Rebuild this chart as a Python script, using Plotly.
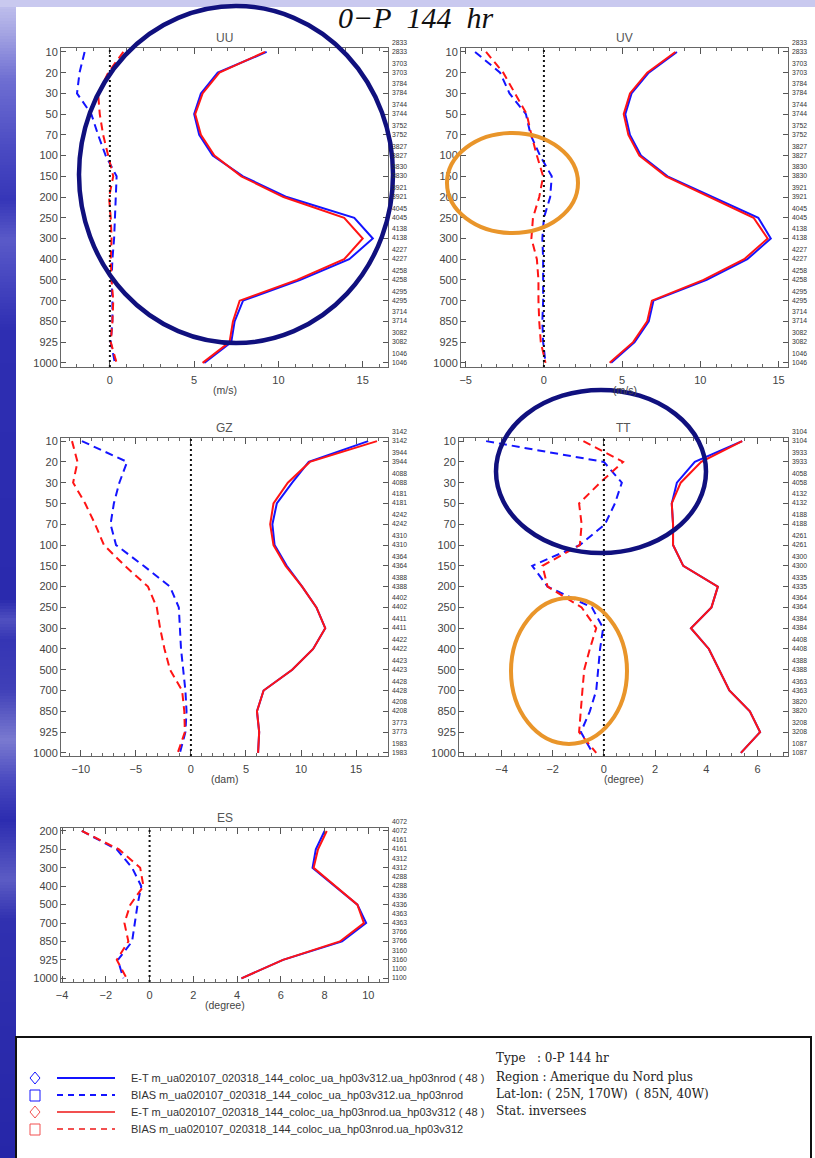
import plotly.graph_objects as go

# ---------------------------------------------------------------- data
LEVELS = ["10", "20", "30", "50", "70", "100", "150", "200", "250", "300",
          "400", "500", "700", "850", "925", "1000"]
ES_LEVELS = ["200", "250", "300", "400", "500", "700", "850", "925", "1000"]

# UU  (m/s)
UU_ET_NRAD = [9.3, 6.4, 5.4, 5.0, 5.3, 6.1, 7.9, 10.5, 14.5, 15.6, 14.2, 11.3, 7.9, 7.4, 7.2, 5.6]
UU_BIAS_NRAD = [-1.5, -1.8, -1.95, -1.1, -0.7, -0.25, 0.4, 0.35, 0.3, 0.25, 0.15, 0.1, 0.15, 0.15, 0.05, 0.3]
UU_ET_V312 = [9.2, 6.5, 5.5, 5.06, 5.4, 6.2, 7.8, 10.3, 13.9, 15.0, 13.9, 11.1, 7.7, 7.3, 7.1, 5.5]
UU_BIAS_V312 = [0.8, -0.1, -0.7, -0.6, -0.4, -0.1, 0.2, -0.05, 0.05, 0.1, 0.05, 0.1, 0.2, 0.15, 0.05, 0.4]
UU_COUNT = [2833, 3703, 3784, 3744, 3752, 3827, 3830, 3921, 4045, 4138, 4227, 4258, 4295, 3714, 3082, 1046]

# UV  (m/s)
UV_ET_NRAD = [8.5, 6.7, 5.6, 5.2, 5.5, 6.2, 7.9, 10.8, 13.7, 14.5, 13.0, 10.4, 7.0, 6.7, 5.8, 4.3]
UV_BIAS_NRAD = [-4.4, -2.8, -2.2, -1.15, -0.85, -0.25, 0.5, 0.4, 0.0, -0.1, -0.05, -0.05, -0.05, -0.1, -0.05, 0.1]
UV_ET_V312 = [8.4, 6.6, 5.5, 5.1, 5.4, 6.1, 7.8, 10.6, 13.4, 14.3, 12.8, 10.2, 6.9, 6.6, 5.7, 4.2]
UV_BIAS_V312 = [-3.7, -2.6, -1.85, -1.1, -0.8, -0.45, -0.05, -0.3, -0.7, -0.8, -0.45, -0.35, -0.35, -0.3, -0.2, 0.1]
UV_COUNT = [2833, 3703, 3784, 3744, 3752, 3827, 3830, 3921, 4045, 4138, 4227, 4258, 4295, 3714, 3082, 1046]

# GZ  (dam)
GZ_ET_NRAD = [16.1, 10.7, 9.2, 7.8, 7.4, 7.6, 8.7, 10.1, 11.4, 12.2, 11.1, 9.2, 6.6, 6.0, 6.2, 6.1]
GZ_BIAS_NRAD = [-9.9, -5.8, -6.5, -7.0, -7.3, -6.8, -4.3, -1.9, -1.1, -1.0, -0.9, -0.7, -0.5, -0.4, -0.5, -1.0]
GZ_ET_V312 = [16.9, 10.8, 8.8, 7.5, 7.2, 7.5, 8.6, 10.1, 11.4, 12.2, 11.1, 9.2, 6.6, 6.0, 6.2, 6.1]
GZ_BIAS_V312 = [-10.8, -10.3, -10.7, -9.6, -8.7, -7.9, -6.0, -3.9, -3.1, -2.8, -2.4, -1.9, -0.8, -0.6, -0.55, -1.2]
GZ_COUNT = [3142, 3944, 4088, 4181, 4242, 4310, 4364, 4388, 4402, 4411, 4422, 4423, 4428, 4208, 3773, 1983]

# TT  (degree)
TT_ET_NRAD = [5.4, 3.55, 2.85, 2.65, 2.7, 2.7, 3.1, 4.45, 4.2, 3.4, 4.1, 4.5, 4.9, 5.7, 6.1, 5.35]
TT_BIAS_NRAD = [-4.6, 0.0, 0.7, 0.43, 0.04, -0.94, -2.8, -2.2, -0.47, -0.03, -0.15, -0.22, -0.3, -0.55, -0.9, -0.44]
TT_ET_V312 = [5.4, 3.8, 3.0, 2.65, 2.7, 2.7, 3.1, 4.45, 4.2, 3.4, 4.1, 4.5, 4.9, 5.7, 6.1, 5.35]
TT_BIAS_V312 = [-0.8, 0.75, -0.15, -0.97, -0.87, -0.94, -2.4, -2.2, -0.87, -0.3, -0.55, -0.77, -0.84, -0.9, -0.97, -0.3]
TT_COUNT = [3104, 3933, 4058, 4132, 4188, 4261, 4300, 4335, 4364, 4384, 4408, 4388, 4363, 3820, 3208, 1087]

# ES  (degree)
ES_ET_NRAD = [8.0, 7.6, 7.45, 8.45, 9.5, 9.9, 8.8, 6.1, 4.2]
ES_BIAS_NRAD = [-3.1, -1.5, -0.8, -0.38, -0.55, -0.66, -0.8, -1.45, -1.2]
ES_ET_V312 = [8.1, 7.7, 7.5, 8.5, 9.5, 9.8, 8.7, 6.1, 4.2]
ES_BIAS_V312 = [-3.1, -1.4, -0.43, -0.28, -0.88, -1.15, -0.97, -1.5, -1.05]
ES_COUNT = [4072, 4161, 4312, 4288, 4336, 4363, 3766, 3160, 1100]

LEGEND_LABELS = [
    "E-T m_ua020107_020318_144_coloc_ua_hp03v312.ua_hp03nrod ( 48 )",
    "BIAS m_ua020107_020318_144_coloc_ua_hp03v312.ua_hp03nrod",
    "E-T m_ua020107_020318_144_coloc_ua_hp03nrod.ua_hp03v312 ( 48 )",
    "BIAS m_ua020107_020318_144_coloc_ua_hp03nrod.ua_hp03v312",
]
INFO_LINES = [
    "Type\u00a0\u00a0\u00a0: 0-P 144 hr",
    "Region : Amerique du Nord plus",
    "Lat-lon: ( 25N, 170W)\u00a0\u00a0( 85N, 40W)",
    "Stat. inversees",
]

# ---------------------------------------------------------------- styling
W, H = 815, 1158
BLUE = "#1414ff"
RED = "#ff1414"
NAVY = "#10107e"
ORANGE = "#e9952a"
SANS = "Liberation Sans, Arial, sans-serif"
SERIF = "Liberation Serif, Times New Roman, serif"
WIDE_SERIF = "DejaVu Serif, serif"
DASH = "8px,5px"


def px(x):
    return x / W


def py(y):
    return 1 - y / H


panels = [
    dict(title="UU", levels=LEVELS, et_b=UU_ET_NRAD, bias_b=UU_BIAS_NRAD,
         et_r=UU_ET_V312, bias_r=UU_BIAS_V312, count=UU_COUNT,
         xrange=[-2.9, 16.5], dtick=5, minor=1, unit="(m/s)",
         box=(61, 388, 48, 367), yrange=[15.2, -0.19]),
    dict(title="UV", levels=LEVELS, et_b=UV_ET_NRAD, bias_b=UV_BIAS_NRAD,
         et_r=UV_ET_V312, bias_r=UV_BIAS_V312, count=UV_COUNT,
         xrange=[-5.3, 15.6], dtick=5, minor=1, unit="(m/s)",
         box=(461, 788, 48, 367), yrange=[15.2, -0.19]),
    dict(title="GZ", levels=LEVELS, et_b=GZ_ET_NRAD, bias_b=GZ_BIAS_NRAD,
         et_r=GZ_ET_V312, bias_r=GZ_BIAS_V312, count=GZ_COUNT,
         xrange=[-11.8, 17.9], dtick=5, minor=1, unit="(dam)",
         box=(61, 388, 438, 756), yrange=[15.15, -0.15]),
    dict(title="TT", levels=LEVELS, et_b=TT_ET_NRAD, bias_b=TT_BIAS_NRAD,
         et_r=TT_ET_V312, bias_r=TT_BIAS_V312, count=TT_COUNT,
         xrange=[-5.66, 7.19], dtick=2, minor=0.5, unit="(degree)",
         box=(459, 788, 438, 756), yrange=[15.15, -0.15]),
    dict(title="ES", levels=ES_LEVELS, et_b=ES_ET_NRAD, bias_b=ES_BIAS_NRAD,
         et_r=ES_ET_V312, bias_r=ES_BIAS_V312, count=ES_COUNT,
         xrange=[-4.05, 10.9], dtick=2, minor=0.5, unit="(degree)",
         box=(61, 388, 828, 982), yrange=[8.2, -0.16]),
]

fig = go.Figure()
layout = {}
shapes = []
annotations = []

# page background: lavender band on top, shaded blue strip on the left
strip_stops = [
    (0, (196, 196, 238)), (30, (168, 168, 228)), (80, (110, 110, 210)),
    (150, (74, 74, 194)), (200, (54, 54, 184)), (240, (90, 90, 200)),
    (280, (70, 70, 192)), (330, (46, 46, 178)), (600, (42, 42, 174)),
    (620, (80, 80, 192)), (640, (53, 53, 180)), (690, (64, 64, 184)),
    (740, (122, 122, 208)), (780, (74, 74, 192)), (820, (44, 44, 176)),
    (880, (92, 92, 196)), (920, (48, 48, 176)), (1158, (38, 38, 168)),
]


def strip_color(y):
    for (y0, c0), (y1, c1) in zip(strip_stops[:-1], strip_stops[1:]):
        if y0 <= y <= y1:
            t = (y - y0) / (y1 - y0)
            return "rgb(%d,%d,%d)" % tuple(round(a + (b - a) * t) for a, b in zip(c0, c1))
    return "rgb(38,38,168)"


step = 3
for y in range(0, H, step):
    shapes.append(dict(type="rect", xref="paper", yref="paper", layer="below",
                       x0=0, x1=px(16), y0=py(y + step + 0.5), y1=py(y),
                       fillcolor=strip_color(y + step / 2), line=dict(width=0)))
shapes.append(dict(type="rect", xref="paper", yref="paper", layer="below",
                   x0=0, x1=1, y0=py(7), y1=1, fillcolor="#c9c9ef", line=dict(width=0)))


def note(text, x, y, xref="paper", yref="paper", xanchor="center", size=11,
         color="#444", family=SANS, yshift=0, align="center"):
    return dict(text=text, x=x, y=y, xref=xref, yref=yref, xanchor=xanchor,
                yanchor="middle", yshift=yshift, showarrow=False, align=align,
                borderpad=0, font=dict(family=family, size=size, color=color))


for k, p in enumerate(panels):
    sx = "" if k == 0 else str(k + 1)
    xa, ya = "x" + sx, "y" + sx
    x0, x1, y0, y1 = p["box"]

    layout["xaxis" + sx] = dict(
        domain=[px(x0), px(x1)], anchor=ya, range=p["xrange"],
        tickmode="linear", tick0=0, dtick=p["dtick"],
        ticks="inside", ticklen=6, tickcolor="#555", tickwidth=1,
        ticklabelstandoff=3,
        minor=dict(ticks="inside", dtick=p["minor"], tick0=0, ticklen=3,
                   tickcolor="#666", showgrid=False),
        showline=True, linecolor="#666", linewidth=1, mirror="ticks",
        showgrid=False, zeroline=False,
        tickfont=dict(family=SANS, size=11, color="#444"),
    )
    layout["yaxis" + sx] = dict(
        domain=[py(y1), py(y0)], anchor=xa, type="category",
        categoryorder="array", categoryarray=p["levels"], range=p["yrange"],
        ticks="inside", ticklen=5, tickcolor="#555", tickwidth=1,
        showline=True, linecolor="#666", linewidth=1, mirror="ticks",
        showgrid=False, zeroline=False,
        tickfont=dict(family=SANS, size=11, color="#444"),
    )

    series = [
        (p["bias_b"], BLUE, DASH),
        (p["et_b"], BLUE, "solid"),
        (p["bias_r"], RED, DASH),
        (p["et_r"], RED, "solid"),
    ]
    for vals, color, dash in series:
        fig.add_trace(go.Scatter(
            x=vals, y=p["levels"], mode="lines", xaxis=xa, yaxis=ya,
            line=dict(color=color, width=2, dash=dash),
            showlegend=False, hoverinfo="x+y"))

    # dotted zero reference
    shapes.append(dict(type="line", xref=xa, yref=ya + " domain", x0=0, x1=0,
                       y0=0, y1=1, line=dict(color="#111", width=2, dash="2px,3px")))

    # panel name and unit
    annotations.append(note(p["title"], 0.5, py(y0 - 10), xref=xa + " domain",
                            size=12, color="#555"))
    annotations.append(note(p["unit"], 0.5, py(y1 + 23), xref=xa + " domain",
                            size=10.5))

    # number of observations per level, both experiments
    for i, n in enumerate(p["count"]):
        annotations.append(note("%d<br>%d" % (n, n), 1.01, i, xref=xa + " domain",
                                yref=ya, xanchor="left", size=6.8, color="#333",
                                yshift=5, align="left"))

# title
annotations.append(note("<i>0\u2212P\u00a0\u00a0144\u00a0\u00a0hr</i>", px(416), py(17),
                        size=30, color="#111", family=SERIF))

# highlighted regions
for (ex0, ex1, ey0, ey1, col, wd) in [
    (79, 393, 6, 343, NAVY, 4.5),
    (447, 578, 133, 233, ORANGE, 4),
    (496, 706, 390, 553, NAVY, 4.5),
    (511, 627, 598, 744, ORANGE, 4),
]:
    shapes.append(dict(type="circle", xref="paper", yref="paper",
                       x0=px(ex0), x1=px(ex1), y0=py(ey1), y1=py(ey0),
                       line=dict(color=col, width=wd), layer="above"))

# legend box
shapes.append(dict(type="rect", xref="paper", yref="paper",
                   x0=px(16), x1=px(811), y0=py(1162), y1=py(1037),
                   line=dict(color="#111", width=2), fillcolor="rgba(0,0,0,0)"))
row_y = [1078, 1095, 1112, 1129]
row_style = [(BLUE, "solid", "diamond"), (BLUE, "6px,5px", "square"),
             ("#f25050", "solid", "diamond"), ("#f25050", "6px,5px", "square")]
for yy, (col, dash, mark), label in zip(row_y, row_style, LEGEND_LABELS):
    if mark == "diamond":
        path = "M {a} {b} L {c} {d} L {a} {e} L {f} {d} Z".format(
            a=px(35), b=py(yy - 6), c=px(40), d=py(yy), e=py(yy + 6), f=px(30))
        shapes.append(dict(type="path", xref="paper", yref="paper", path=path,
                           line=dict(color=col, width=1)))
    else:
        shapes.append(dict(type="rect", xref="paper", yref="paper",
                           x0=px(30), x1=px(40), y0=py(yy + 6), y1=py(yy - 5),
                           line=dict(color=col, width=1)))
    shapes.append(dict(type="line", xref="paper", yref="paper",
                       x0=px(57), x1=px(115), y0=py(yy), y1=py(yy),
                       line=dict(color=col, width=2, dash=dash)))
    annotations.append(note(label, px(130), py(yy), xanchor="left", size=11,
                            color="#333"))

for yy, line in zip([1058, 1077, 1094, 1111], INFO_LINES):
    annotations.append(note(line, px(495), py(yy), xanchor="left", size=12,
                            color="#222", family=WIDE_SERIF, align="left"))

fig.update_layout(
    width=W, height=H, margin=dict(l=0, r=0, t=0, b=0, autoexpand=False),
    paper_bgcolor="white", plot_bgcolor="white",
    showlegend=False, shapes=shapes, annotations=annotations, **layout)

fig.write_html("out.html")
